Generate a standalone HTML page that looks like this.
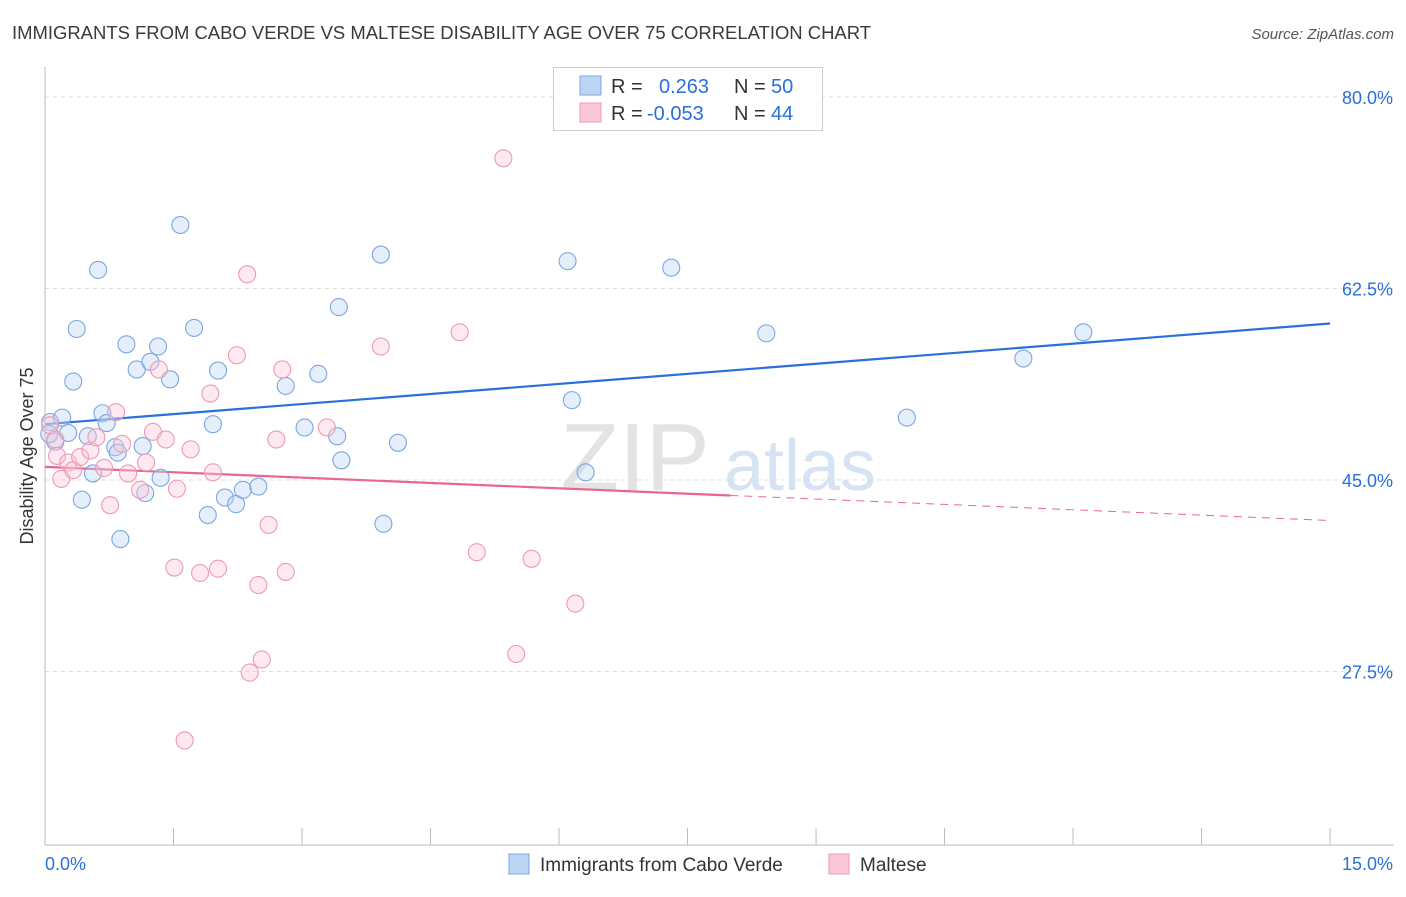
<!DOCTYPE html>
<html><head><meta charset="utf-8"><style>
body{margin:0;background:#fff;font-family:"Liberation Sans",sans-serif;}
svg text{font-family:"Liberation Sans",sans-serif;}
</style></head><body>
<svg id="chart" width="1406" height="892">
<text x="12" y="39" font-size="18" fill="#3a3a3a" textLength="859" lengthAdjust="spacingAndGlyphs">IMMIGRANTS FROM CABO VERDE VS MALTESE DISABILITY AGE OVER 75 CORRELATION CHART</text>
<text x="1394" y="39" font-size="15" fill="#555" font-style="italic" text-anchor="end">Source: ZipAtlas.com</text>
<text x="33" y="456" font-size="18" fill="#333" text-anchor="middle" transform="rotate(-90 33 456)">Disability Age Over 75</text>
<text x="635" y="490" font-size="96" fill="#e3e3e3" font-family="Liberation Serif" text-anchor="middle">ZIP</text>
<text x="800" y="490" font-size="72" fill="#d5e3f3" text-anchor="middle">atlas</text>
<g id="grid"></g><g id="axes"></g><g id="lines"></g><g id="pts"></g>
<g>
<rect x="553.500" y="67.500" width="269" height="63" fill="#fff" stroke="#ccc"/>
<rect x="580" y="76" width="21" height="19" fill="#bdd5f5" stroke="#7aa7e0"/>
<rect x="580" y="103" width="21" height="19" fill="#fac8d8" stroke="#ec9ab5"/>
<text x="611" y="93" font-size="20" fill="#333">R = <tspan x="659" fill="#2a6fdb">0.263</tspan><tspan x="734" fill="#333">N = </tspan><tspan x="771" fill="#2a6fdb">50</tspan></text>
<text x="611" y="120" font-size="20" fill="#333">R = <tspan x="647" fill="#2a6fdb">-0.053</tspan><tspan x="734" fill="#333">N = </tspan><tspan x="771" fill="#2a6fdb">44</tspan></text>
</g>
<g>
<rect x="509" y="854" width="20" height="20" fill="#bdd5f5" stroke="#7aa7e0"/>
<text x="540" y="871" font-size="19" fill="#333">Immigrants from Cabo Verde</text>
<rect x="829" y="854" width="20" height="20" fill="#fac8d8" stroke="#ec9ab5"/>
<text x="860" y="871" font-size="19" fill="#333">Maltese</text>
</g>
</svg>
<script>
const blueX=[.06,.12,.20,.27,.33,.37,.43,.50,.56,.62,.67,.72,.82,.85,.88,.95,1.07,1.14,1.17,1.23,1.32,1.35,1.46,1.58,1.74,1.90,1.96,2.02,2.10,2.23,2.31,2.49,2.81,3.03,3.19,3.43,3.41,3.46,3.92,3.95,4.12,6.10,6.15,6.31,7.31,8.42,10.06,11.42,12.12,0.05];
const blueY=[50.3,48.5,50.7,49.3,54.0,58.8,43.2,49.0,45.6,64.2,51.1,50.2,48.0,47.5,39.6,57.4,55.1,48.1,43.8,55.8,57.2,45.2,54.2,68.3,58.9,41.8,50.1,55.0,43.4,42.8,44.1,44.4,53.6,49.8,54.7,60.8,49.0,46.8,65.6,41.0,48.4,65.0,52.3,45.7,64.4,58.4,50.7,56.1,58.5,49.2];
const pinkX=[.06,.12,.14,.19,.27,.33,.41,.53,.60,.69,.76,.83,.90,.97,1.11,1.18,1.26,1.33,1.41,1.51,1.54,1.63,1.70,1.81,1.93,1.96,2.02,2.24,2.36,2.39,2.49,2.53,2.61,2.70,2.77,2.81,3.29,3.92,4.84,5.04,5.35,5.50,5.68,6.19];
const pinkY=[50.0,48.7,47.2,45.1,46.6,45.9,47.1,47.7,48.9,46.1,42.7,51.2,48.3,45.6,44.1,46.6,49.4,55.1,48.7,37.0,44.2,21.2,47.8,36.5,52.9,45.7,36.9,56.4,63.8,27.4,35.4,28.6,40.9,48.7,55.1,36.6,49.8,57.2,58.5,38.4,74.4,29.1,37.8,33.7];
const yTicks=[80,62.5,45,27.5];
const yTickLabels=["80.0%","62.5%","45.0%","27.5%"];
const xTicks=[0,1.5,3,4.5,6,7.5,9,10.5,12,13.5,15];
const blueTrend=[50.1,59.3];
const pinkTrend=[46.2,41.3];
const pinkSolidEnd=8.0;
const NS='http://www.w3.org/2000/svg';
const X=v=>45+v*85.67, Y=v=>97+(80-v)*10.943;
function mk(p,t,a){const e=document.createElementNS(NS,t);for(const k in a)e.setAttribute(k,a[k]);document.getElementById(p).appendChild(e);return e;}
yTicks.forEach((t,i)=>{
 const l=mk('grid','line',{x1:45,x2:1394,y1:Y(t),y2:Y(t),stroke:'#ddd','stroke-dasharray':'4,4'});
 
 
 const tx=mk('grid','text',{x:1393,y:Y(t)+7,'font-size':18,fill:'#2a6fdb','text-anchor':'end'});
 tx.textContent=yTickLabels[i];
 
 
});
const ya=mk('axes','line',{x1:45,x2:45,y1:67,y2:845,stroke:'#bbb'});


const xa=mk('axes','line',{x1:45,x2:1394,y1:845,y2:845,stroke:'#bbb'});


xTicks.forEach(t=>{
 const l=mk('axes','line',{x1:X(t),x2:X(t),y1:828,y2:845,stroke:'#bbb'});
 
 
});
[[0,'0.0%','start',45],[15,'15.0%','end',1393]].forEach(d=>{
 const tx=mk('axes','text',{x:d[3],y:870,'font-size':18,fill:'#2a6fdb','text-anchor':d[2]});
 tx.textContent=d[1];
 
 
});
function pts(xs,ys,fill,stroke,name){xs.forEach((x,i)=>{
 const c=mk('pts','circle',{cx:X(x),cy:Y(ys[i]),r:8.5,fill:fill,stroke:stroke,'stroke-width':1.1,'fill-opacity':0.4});
 
 
});}
pts(blueX,blueY,'#bdd5f5','#7aa7e0','cabo-verde-point');
pts(pinkX,pinkY,'#fac8d8','#ec9ab5','maltese-point');
const slope=(pinkTrend[1]-pinkTrend[0])/15;
const bl=mk('lines','line',{x1:X(0),y1:Y(blueTrend[0]),x2:X(15),y2:Y(blueTrend[1]),stroke:'#2a6fdb','stroke-width':2.2});


const ps=mk('lines','line',{x1:X(0),y1:Y(pinkTrend[0]),x2:X(pinkSolidEnd),y2:Y(pinkTrend[0]+slope*pinkSolidEnd),stroke:'#e8668f','stroke-width':2.2});


const pd=mk('lines','line',{x1:X(pinkSolidEnd),y1:Y(pinkTrend[0]+slope*pinkSolidEnd),x2:X(15),y2:Y(pinkTrend[1]),stroke:'#e8668f','stroke-width':1,'stroke-dasharray':'8,6'});


</script>
</body></html>
